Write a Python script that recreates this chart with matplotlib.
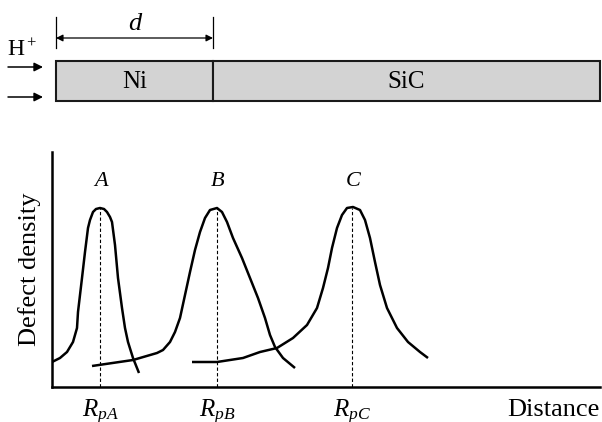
import matplotlib.pyplot as plt

plt.rcParams['font.family'] = ['Liberation Serif', 'DejaVu Serif']
plt.rcParams['mathtext.fontset'] = 'custom'
plt.rcParams['mathtext.rm'] = 'Liberation Serif'
plt.rcParams['mathtext.it'] = 'Liberation Serif:italic'

# defect profiles (distance, density in arbitrary units)
dist_A = [0, 8, 15, 21, 25, 26, 30, 33, 36, 38, 41, 44, 48, 52, 55, 58, 60, 63, 66, 70, 73, 76, 81, 87]
dens_A = [25, 29, 35, 45, 59, 75, 109, 135, 159, 167, 175, 178, 179, 178, 175, 170, 165, 142, 109, 79, 59, 45, 29, 14]

dist_B = [40, 81, 105, 111, 118, 123, 128, 133, 138, 143, 148, 153, 158, 165, 170, 175, 181, 190, 198, 206, 213, 218, 223, 231, 243]
dens_B = [21, 27, 34, 37, 45, 55, 69, 92, 115, 137, 155, 169, 177, 179, 175, 165, 149, 129, 109, 89, 69, 52, 40, 29, 19]

dist_C = [140, 165, 191, 208, 225, 241, 255, 265, 271, 276, 280, 285, 290, 295, 301, 308, 313, 318, 323, 328, 335, 345, 356, 368, 376]
dens_C = [25, 25, 29, 35, 39, 49, 62, 79, 99, 119, 139, 159, 172, 179, 180, 177, 167, 149, 125, 102, 79, 59, 45, 35, 29]

peaks = [48, 165, 300]
peak_names = ['A', 'B', 'C']
peak_ticks = ['$R_{pA}$', '$R_{pB}$', '$R_{pC}$']

# sample layers (depth along the bar)
layers = ['Ni', 'SiC']
layer_edges = [0, 157, 544]

fig = plt.figure(figsize=(6.02, 4.22), dpi=100)

# ---- lower chart ----
ax = fig.add_axes([52 / 602, 35 / 422, 548 / 602, 235 / 422])
for xs, ys in [(dist_A, dens_A), (dist_B, dens_B), (dist_C, dens_C)]:
    ax.plot(xs, ys, color='black', lw=1.8, solid_joinstyle='round', solid_capstyle='butt')
for p, name in zip(peaks, peak_names):
    ax.plot([p, p], [0, 179], color='black', lw=0.8, ls=(0, (3, 2)))
    ax.text(p + 1, 196, name, ha='center', va='bottom', fontsize=16, style='italic')

ax.set_xlim(0, 548)
ax.set_ylim(0, 235)
ax.set_xticks(peaks)
ax.set_xticklabels(peak_ticks, fontsize=18)
ax.tick_params(axis='x', length=0, pad=8)
ax.set_yticks([])
for s in ['top', 'right']:
    ax.spines[s].set_visible(False)
for s in ['left', 'bottom']:
    ax.spines[s].set_linewidth(1.8)
ax.set_ylabel('Defect density', fontsize=19, labelpad=8)
ax.text(1.0, -0.05, 'Distance', transform=ax.transAxes, ha='right', va='top', fontsize=19)

# ---- upper sample sketch ----
top = fig.add_axes([0, 292 / 422, 1, 130 / 422])
top.set_xlim(-56, 546)
top.set_ylim(130, 0)
top.axis('off')
widths = [b - a for a, b in zip(layer_edges[:-1], layer_edges[1:])]
top.barh([81, 81], widths, left=layer_edges[:-1], height=40,
         color='#d3d3d3', edgecolor='#1a1a1a', linewidth=1.5)
for name, a, w in zip(layers, layer_edges[:-1], widths):
    top.text(a + w / 2, 82, name, ha='center', va='center', fontsize=18)

# thickness d of the Ni layer
for x in layer_edges[:2]:
    top.plot([x, x], [17, 48], color='black', lw=0.9)
top.annotate('', xy=(layer_edges[0], 38), xytext=(layer_edges[1], 38),
             arrowprops=dict(arrowstyle='<|-|>', color='black', lw=0.9,
                             mutation_scale=10, shrinkA=0, shrinkB=0))
top.text(layer_edges[1] / 2, 24, 'd', ha='center', va='center', fontsize=19, style='italic')

# incoming protons
top.text(-49, 50, 'H$^+$', ha='left', va='center', fontsize=17)
for y in [67, 97]:
    top.annotate('', xy=(-13, y), xytext=(-48, y),
                 arrowprops=dict(arrowstyle='-|>', color='black', lw=1.1,
                                 mutation_scale=13, shrinkA=0, shrinkB=0))

fig.savefig('out.png', dpi=100)
